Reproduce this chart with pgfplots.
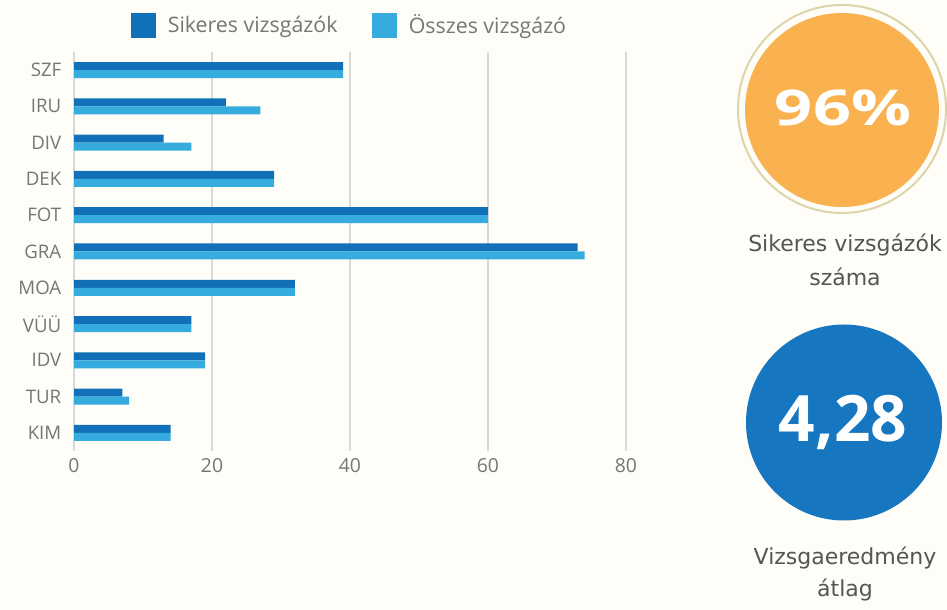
\documentclass[border=0pt]{standalone}
\usepackage{pgfplots}
\pgfplotsset{compat=1.18}
\usepackage{fontspec}
\setmainfont{Open Sans}
\newfontfamily\labelfont{DejaVu Sans}

\definecolor{bgc}{RGB}{254,253,247}
\definecolor{darkb}{RGB}{17,112,184}
\definecolor{lightb}{RGB}{53,172,221}
\definecolor{orangec}{RGB}{249,178,79}
\definecolor{ringc}{RGB}{222,212,170}
\definecolor{bluec}{RGB}{22,118,192}
\definecolor{txt}{RGB}{118,118,118}
\definecolor{lbl}{RGB}{85,85,85}

% picture units: 1 = one pixel of the 947x610 image, y measured from the bottom
\begin{document}
\begin{tikzpicture}[x=0.75pt,y=0.75pt]
\fill[bgc] (0,0) rectangle (947,610);
\begin{axis}[
  at={(55.5pt,119.25pt)}, anchor=south west,
  scale only axis, width=414pt, height=299.25pt,
  xmin=0, xmax=80, ymin=-0.5, ymax=10.5,
  xtick={0,20,...,80}, ytick={0,...,10},
  yticklabels={KIM,TUR,IDV,VÜÜ,MOA,GRA,FOT,DEK,DIV,IRU,SZF},
  xmajorgrids, major grid style={draw=black!15, line width=0.8pt},
  axis lines*=left, axis line style={draw=none},
  major tick length=0pt,
  /pgf/number format/assume math mode=true,
  ticklabel style={font=\fontsize{14.5}{17}\selectfont, text=txt},
  yticklabel style={xshift=-6pt, font=\fontsize{14}{17}\selectfont},
  xticklabel style={yshift=-2pt},
  legend columns=2,
  legend style={at={(0.5,1)}, anchor=south, yshift=8pt, draw=none, fill=none,
    font=\fontsize{16}{18}\selectfont, text=txt,
    /tikz/every odd column/.append style={column sep=7pt},
    /tikz/every even column/.append style={column sep=24pt}},
]
\addplot[xbar, bar width=6pt, bar shift=3pt, fill=darkb, draw=none,
  legend image code/.code={\fill[darkb] (0pt,-9.5pt) rectangle (18.5pt,9.5pt);}]
  coordinates {(14,0) (7,1) (19,2) (17,3) (32,4) (73,5) (60,6) (29,7) (13,8) (22,9) (39,10)};
\addlegendentry{Sikeres vizsgázók}
\addplot[xbar, bar width=6pt, bar shift=-3pt, fill=lightb, draw=none,
  legend image code/.code={\fill[lightb] (0pt,-9.5pt) rectangle (18.5pt,9.5pt);}]
  coordinates {(14,0) (8,1) (19,2) (17,3) (32,4) (74,5) (60,6) (29,7) (17,8) (27,9) (39,10)};
\addlegendentry{Összes vizsgázó}
\end{axis}
% summary circles
\draw[ringc, line width=1.5pt] (842,501) circle[radius=104];
\fill[orangec] (842,500) circle[radius=97];
\node[white, font=\bfseries\fontsize{37}{37}\selectfont] at (843,502) {\scalebox{1.35}[1]{96\%}};
\node[lbl, font=\labelfont\fontsize{16.5}{18}\selectfont] at (845,365) {Sikeres vizsgázók};
\node[lbl, font=\labelfont\fontsize{16.5}{18}\selectfont] at (845,333) {száma};
\fill[bluec] (844,187.5) circle[radius=98];
\node[white, font=\bfseries\fontsize{48}{48}\selectfont] at (843,188) {4,28};
\node[lbl, font=\labelfont\fontsize{16.5}{18}\selectfont] at (845,52) {Vizsgaeredmény};
\node[lbl, font=\labelfont\fontsize{16.5}{18}\selectfont] at (845,20) {átlag};
\end{tikzpicture}
\end{document}
